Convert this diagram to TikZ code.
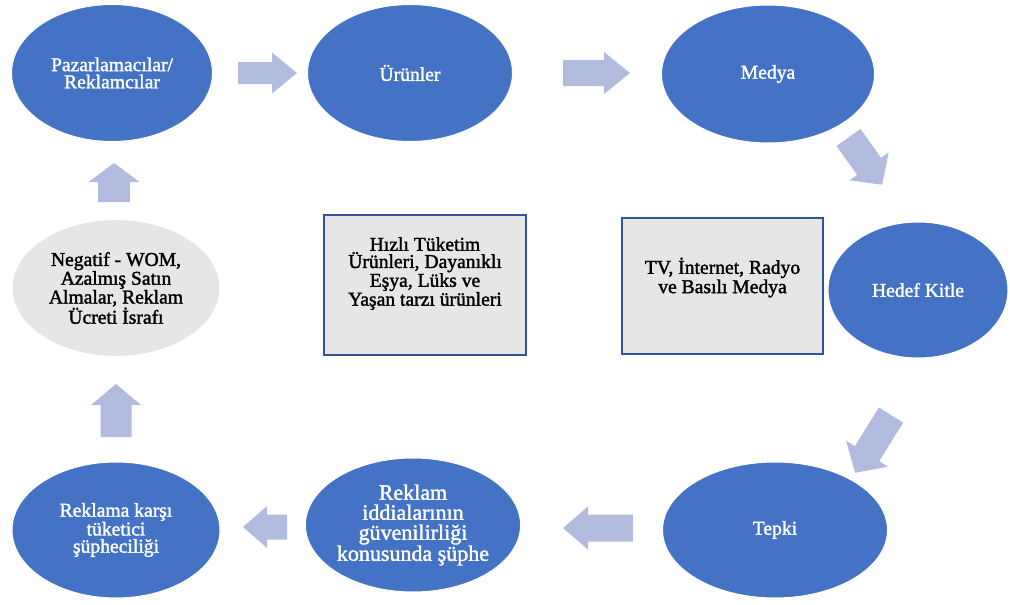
\documentclass[tikz,border=0pt]{standalone}
\usepackage{fontspec}
\setmainfont{Liberation Serif}
\newfontfamily\stagefont[FakeBold=1.6]{Liberation Serif}
\usetikzlibrary{shapes.geometric}

\definecolor{cycleblue}{HTML}{4472C4}
\definecolor{arrowblue}{RGB}{177,188,223}
\definecolor{panelgray}{HTML}{E7E6E6}
\definecolor{frameblue}{HTML}{2F5597}

% block arrow: tail coordinate, angle, length, shaft half-width, head half-width, head length
\newcommand\cyclearrow[6]{%
  \fill[arrowblue, shift={(#1)}, rotate=#2]
    (0,-#4) -- (#3-#6,-#4) -- (#3-#6,-#5) -- (#3,0) -- (#3-#6,#5)
    -- (#3-#6,#4) -- (0,#4) -- cycle;}

\tikzset{
  stagetext/.style={font=\stagefont\fontsize{19.6}{17.2}\selectfont, align=center, inner sep=0pt},
  stage/.style={ellipse, fill=cycleblue, draw=white, line width=1pt, text=white, stagetext},
  softstage/.style={ellipse, fill=panelgray, draw=white, line width=1pt, text=black, stagetext},
  infobox/.style={rectangle, fill=panelgray, draw=frameblue, line width=1.8pt, inner sep=0pt},
}

\begin{document}
\begin{tikzpicture}[x=1pt, y=-1pt]
\useasboundingbox (0,0) rectangle (1010,605);

% cycle stages
\node[stage, minimum width=201, minimum height=137] (pazar) at (112,73) {Pazarlamacılar/\\Reklamcılar};
\node[stage, minimum width=205, minimum height=137] (urun) at (410,73) {Ürünler};
\node[stage, minimum width=213, minimum height=138] (medya) at (768,74) {Medya};
\node[stage, minimum width=180, minimum height=136] (hedef) at (918,290) {Hedef Kitle};
\node[stage, minimum width=225, minimum height=136] (tepki) at (775,530) {Tepki};
\node[stage, minimum width=210, minimum height=134, font=\stagefont\fontsize{22}{20}\selectfont] (iddia) at (413,525)
  {Reklam\\iddialarının\\güvenilirliği\\konusunda şüphe};
\node[stage, minimum width=208, minimum height=136] (kuskuc) at (116,530) {Reklama karşı\\tüketici\\şüpheciliği};
\node[softstage, minimum width=208, minimum height=137] (negatif) at (116,288) {Negatif - WOM,\\Azalmış Satın\\Almalar, Reklam\\Ücreti İsrafı};

% explanatory boxes
\node[infobox, minimum width=202, minimum height=140] (urunbox) at (425,285) {};
\node[stagetext] (urunboxtext) at (425,273.5)
  {Hızlı Tüketim\\Ürünleri, Dayanıklı\\Eşya, Lüks ve\\Yaşan tarzı ürünleri};
\node[infobox, minimum width=201, minimum height=136] (medyabox) at (722.5,286) {};
\node[stagetext, font=\stagefont\fontsize{19.6}{19.3}\selectfont] (medyaboxtext) at (722.5,277.5)
  {TV, İnternet, Radyo\\ve Basılı Medya};

% arrow tails between the stages
\coordinate (a1) at (238,73);
\coordinate (a2) at (563,73);
\coordinate (a3) at (848.5,137.5);
\coordinate (a4) at (891,415);
\coordinate (a5) at (633,528);
\coordinate (a6) at (287,527);
\coordinate (a7) at (116,437);
\coordinate (a8) at (114,202);

\cyclearrow{a1}{0}{59}{11}{20.5}{25}
\cyclearrow{a2}{0}{67}{13}{21}{26}
\cyclearrow{a3}{-54.5}{58}{14.7}{24}{22.5}
\cyclearrow{a4}{-121.8}{68}{14.3}{24.7}{22.5}
\cyclearrow{a5}{180}{70}{13.5}{21.5}{25}
\cyclearrow{a6}{180}{44}{12.5}{21}{24}
\cyclearrow{a7}{90}{53}{15.5}{25}{21}
\cyclearrow{a8}{90}{39}{16}{25.5}{19}
\end{tikzpicture}
\end{document}
